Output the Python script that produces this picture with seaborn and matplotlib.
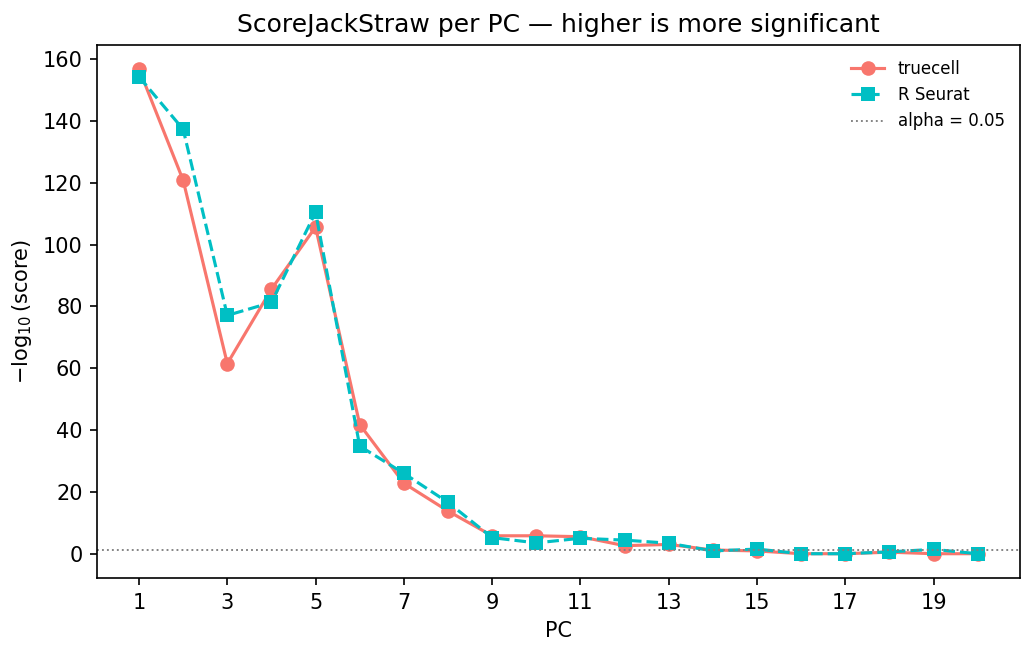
import matplotlib
matplotlib.use("Agg")
import matplotlib.pyplot as plt
import seaborn as sns
import numpy as np
import pandas as pd

pcs = list(range(1, 21))
truecell = [156.8, 120.8, 61.5, 85.6, 105.7, 41.8, 22.8, 13.8, 5.8, 5.8,
            5.5, 2.6, 3.0, 1.2, 0.9, 0.0, 0.0, 0.5, 0.0, 0.0]
seurat = [154.3, 137.3, 77.1, 81.3, 110.5, 34.8, 26.0, 16.6, 5.2, 3.5,
          5.0, 4.4, 3.4, 0.9, 1.5, 0.0, 0.0, 0.6, 1.4, 0.0]
alpha_line = -np.log10(0.05)
xtick_vals = list(range(1, 21, 2))

df = pd.DataFrame({"PC": pcs, "truecell": truecell, "R Seurat": seurat})

plt.rcdefaults()
plt.rcParams["font.family"] = ["DejaVu Sans"]

fig, ax = plt.subplots(figsize=(1033 / 150, 659 / 150), dpi=150)
fig.subplots_adjust(left=0.094, right=0.987, top=0.932, bottom=0.123)

sns.lineplot(data=df, x="PC", y="truecell", ax=ax, color="#F8766D", marker="o",
             markersize=7, markeredgewidth=0, linewidth=1.5, label="truecell")
sns.lineplot(data=df, x="PC", y="R Seurat", ax=ax, color="#00BFC4", marker="s",
             markersize=7, markeredgewidth=0, linewidth=1.5, linestyle="--",
             label="R Seurat")
ax.axhline(alpha_line, color="gray", linestyle=":", linewidth=0.9, label="alpha = 0.05")

ax.set_xticks(xtick_vals)
ax.set_xlabel("PC")
ax.set_ylabel("$-\\log_{10}$(score)")
ax.set_title("ScoreJackStraw per PC — higher is more significant", fontsize=12)
ax.legend(frameon=False, fontsize=8, loc="upper right")

fig.savefig("out.png", dpi=150)
